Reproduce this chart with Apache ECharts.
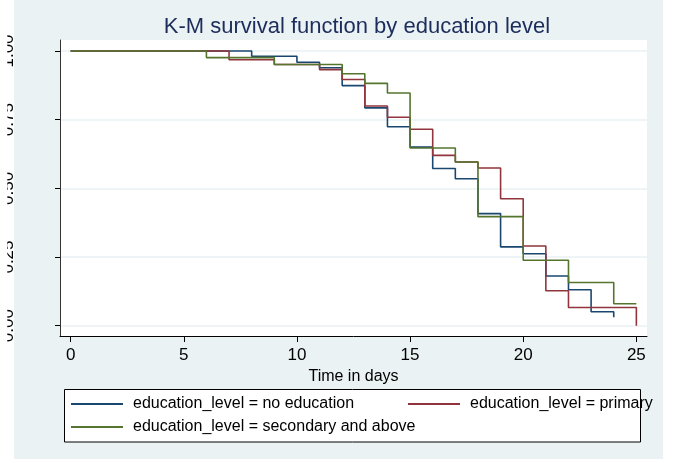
<!DOCTYPE html>
<html>
<head>
<meta charset="utf-8">
<script src="https://cdn.jsdelivr.net/npm/echarts@6/dist/echarts.min.js"></script>
<style>
html,body{margin:0;padding:0;background:#fff;}
#chart{width:676px;height:463px;}
</style>
</head>
<body>
<div id="chart"></div>
<script>
const seriesNames = ['education_level = no education', 'education_level = primary', 'education_level = secondary and above'];
const timesNoEdu = [0, 8, 10, 11, 12, 13, 14, 15, 16, 17, 18, 19, 20, 21, 22, 23, 24];
const survNoEdu = [1, 0.981, 0.959, 0.939, 0.874, 0.793, 0.724, 0.650, 0.572, 0.535, 0.408, 0.287, 0.262, 0.181, 0.131, 0.051, 0.031];
const timesPrimary = [0, 7, 9, 11, 12, 13, 14, 15, 16, 17, 18, 19, 20, 21, 22, 25];
const survPrimary = [1, 0.968, 0.951, 0.932, 0.896, 0.800, 0.759, 0.715, 0.620, 0.596, 0.574, 0.462, 0.290, 0.127, 0.066, 0];
const timesSecondary = [0, 6, 9, 12, 13, 14, 15, 17, 18, 20, 22, 24, 25];
const survSecondary = [1, 0.976, 0.951, 0.917, 0.882, 0.847, 0.647, 0.596, 0.397, 0.238, 0.157, 0.080, 0.080];
const xTicks = [0, 5, 10, 15, 20, 25];
const yTicks = [0, 0.25, 0.5, 0.75, 1];
const colors = ['#1a476f', '#90353b', '#55752f'];

const FONT = '"Liberation Sans", Arial, sans-serif';
const pairs = (t, s) => t.map((v, i) => [v, s[i]]);

const chart = echarts.init(document.getElementById('chart'), null, {renderer: 'canvas'});
const legendBase = {
  orient: 'horizontal', padding: 0, icon: 'rect', itemWidth: 52, itemHeight: 2,
  textStyle: {fontFamily: FONT, fontSize: 16, color: '#000', padding: [0, 0, 0, 5]},
  selectedMode: false
};
chart.setOption({
  backgroundColor: '#ffffff',
  animation: false,
  color: colors,
  title: {
    text: 'K-M survival function by education level',
    left: 352, textAlign: 'center', top: 11,
    textStyle: {fontFamily: FONT, fontSize: 22, fontWeight: 'normal', color: '#1c2c5b'}
  },
  graphic: [
    {type: 'rect', z: -5, silent: true, shape: {x: 14, y: 0, width: 649, height: 459}, style: {fill: '#eaf2f3'}},
    {type: 'rect', z: 1, silent: true, shape: {x: 64.5, y: 389.5, width: 576, height: 52.5}, style: {fill: '#fff', stroke: '#000', lineWidth: 1}},
    {type: 'rect', z: 100, silent: true, shape: {x: 0, y: 0, width: 7.3, height: 463}, style: {fill: '#fff'}}
  ],
  legend: [
    Object.assign({}, legendBase, {data: [seriesNames[0]], left: 71, top: 396}),
    Object.assign({}, legendBase, {data: [seriesNames[1]], left: 408, top: 396}),
    Object.assign({}, legendBase, {data: [seriesNames[2]], left: 71, top: 419})
  ],
  grid: {left: 58, right: 29, top: 40, bottom: 127, show: true, backgroundColor: '#ffffff', borderWidth: 0, containLabel: false},
  xAxis: {
    type: 'value', min: -0.47, max: 25.47,
    name: 'Time in days', nameLocation: 'middle', nameGap: 27,
    nameTextStyle: {fontFamily: FONT, fontSize: 16, color: '#000'},
    axisLine: {onZero: false, lineStyle: {color: '#000', width: 1}},
    axisTick: {show: true, length: 6, customValues: xTicks, lineStyle: {color: '#000'}},
    axisLabel: {customValues: xTicks, margin: 11, fontFamily: FONT, fontSize: 17, color: '#000'},
    splitLine: {show: false}
  },
  yAxis: {
    type: 'value', min: -0.0375, max: 1.04,
    axisLine: {show: true, onZero: false, lineStyle: {color: '#333', width: 1}},
    axisTick: {show: true, length: 5, customValues: yTicks, lineStyle: {color: '#000'}},
    axisLabel: {customValues: yTicks, rotate: 90, margin: 43, fontFamily: FONT, fontSize: 17, color: '#000',
      formatter: v => v.toFixed(2)},
    splitLine: {show: true, lineStyle: {color: '#eaf2f3', width: 1.5}}
  },
  series: [
    {name: seriesNames[0], type: 'line', step: 'end', symbol: 'none', data: pairs(timesNoEdu, survNoEdu), lineStyle: {width: 1.6, color: colors[0]}, itemStyle: {color: colors[0]}},
    {name: seriesNames[1], type: 'line', step: 'end', symbol: 'none', data: pairs(timesPrimary, survPrimary), lineStyle: {width: 1.6, color: colors[1]}, itemStyle: {color: colors[1]}},
    {name: seriesNames[2], type: 'line', step: 'end', symbol: 'none', data: pairs(timesSecondary, survSecondary), lineStyle: {width: 1.6, color: colors[2]}, itemStyle: {color: colors[2]}}
  ]
});
</script>
</body>
</html>
